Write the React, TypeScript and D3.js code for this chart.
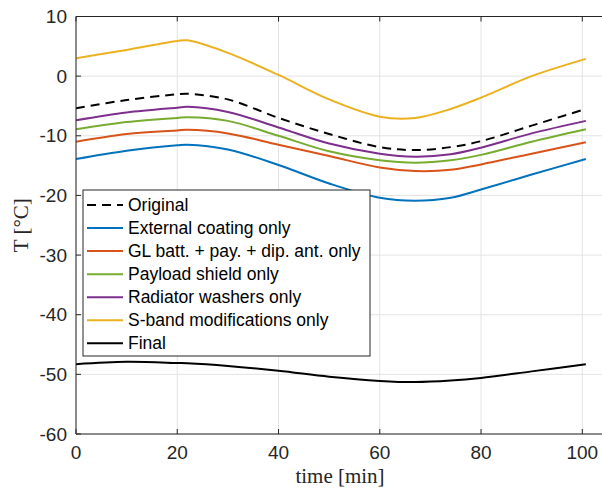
import React from "react";
import * as d3 from "d3";

const times = [0, 10, 20, 22, 30, 40, 50, 60, 67, 74, 80, 90, 100.7];

const seriesNames = [
  "Original",
  "External coating only",
  "GL batt. + pay. + dip. ant. only",
  "Payload shield only",
  "Radiator washers only",
  "S-band modifications only",
  "Final",
];

const original = [-5.4, -4.0, -3.05, -2.95, -3.9, -7.0, -9.7, -11.9, -12.4, -11.9, -10.9, -8.3, -5.5];
const externalCoating = [-13.9, -12.5, -11.6, -11.5, -12.3, -14.9, -18.0, -20.4, -20.9, -20.4, -19.0, -16.5, -13.9];
const glBatt = [-11.0, -9.7, -9.1, -9.0, -9.6, -11.5, -13.4, -15.3, -15.9, -15.7, -14.8, -13.0, -11.1];
const payloadShield = [-8.9, -7.7, -7.0, -6.9, -7.5, -10.0, -12.6, -14.1, -14.5, -14.1, -13.2, -11.0, -8.9];
const radiatorWashers = [-7.4, -6.1, -5.3, -5.15, -6.0, -8.6, -11.3, -13.0, -13.5, -13.1, -12.0, -9.6, -7.5];
const sBand = [3.0, 4.4, 5.9, 6.0, 3.9, 0.2, -3.9, -6.8, -7.0, -5.5, -3.6, 0.0, 2.9];
const finalSeries = [-48.3, -47.9, -48.1, -48.15, -48.6, -49.4, -50.4, -51.1, -51.3, -51.05, -50.6, -49.5, -48.3];

const seriesValues = [original, externalCoating, glBatt, payloadShield, radiatorWashers, sBand, finalSeries];
const seriesColors = ["#000000", "#0072BD", "#D95319", "#77AC30", "#7E2F8E", "#EDB120", "#000000"];
const seriesDashed = [true, false, false, false, false, false, false];

const xTicks = [0, 20, 40, 60, 80, 100];
const yTicks = [10, 0, -10, -20, -30, -40, -50, -60];

export default function App() {
  const W = 602;
  const H = 492;
  const left = 76;
  const top = 16.5;
  const bottom = 434;
  const x = d3.scaleLinear().domain([0, 100]).range([left, 582.3]);
  const y = d3.scaleLinear().domain([-60, 10]).range([bottom, top]);
  const right = W;

  const line = d3
    .line<number>()
    .x((_, i) => x(times[i]))
    .y((d) => y(d))
    .curve(d3.curveCatmullRom.alpha(0.5));

  const axisColor = "#262626";
  const gridColor = "#e3e3e3";
  const tickFont = "Liberation Sans, Arial, sans-serif";
  const serif = "Liberation Serif, Times New Roman, serif";

  const legX = 83;
  const legY = 190;
  const legW = 287;
  const legH = 166;
  const rowY0 = 205;
  const rowStep = 23.05;

  return (
    <svg
      width={W}
      height={H}
      style={{ position: "absolute", left: 0, top: 0, background: "#fff" }}
    >
      <rect x={0} y={0} width={W} height={H} fill="#fff" />
      <defs>
        <clipPath id="plotClip">
          <rect x={left} y={top} width={right - left} height={bottom - top} />
        </clipPath>
      </defs>
      {xTicks.map((t) => (
        <line key={"gx" + t} x1={x(t)} x2={x(t)} y1={top} y2={bottom} stroke={gridColor} strokeWidth={1} />
      ))}
      {yTicks.map((t) => (
        <line key={"gy" + t} x1={left} x2={right} y1={y(t)} y2={y(t)} stroke={gridColor} strokeWidth={1} />
      ))}
      <g clipPath="url(#plotClip)">
        {seriesValues.map((vals, i) => (
          <path
            key={"s" + i}
            d={line(vals) || ""}
            fill="none"
            stroke={seriesColors[i]}
            strokeWidth={2}
            strokeDasharray={seriesDashed[i] ? "9,6" : undefined}
          />
        ))}
      </g>
      <line x1={left} x2={right} y1={bottom} y2={bottom} stroke={axisColor} strokeWidth={1} />
      <line x1={left} x2={right} y1={top} y2={top} stroke={axisColor} strokeWidth={1} />
      <line x1={left} x2={left} y1={top} y2={bottom} stroke={axisColor} strokeWidth={1} />
      {xTicks.map((t) => (
        <g key={"xt" + t}>
          <line x1={x(t)} x2={x(t)} y1={bottom} y2={bottom - 5} stroke={axisColor} />
          <line x1={x(t)} x2={x(t)} y1={top} y2={top + 5} stroke={axisColor} />
          <text
            x={x(t)}
            y={452}
            textAnchor="middle"
            dominantBaseline="central"
            fontFamily={tickFont}
            fontSize={19}
            fill={axisColor}
          >
            {t}
          </text>
        </g>
      ))}
      {yTicks.map((t) => (
        <g key={"yt" + t}>
          <line x1={left} x2={left + 5} y1={y(t)} y2={y(t)} stroke={axisColor} />
          <text
            x={67}
            y={y(t)}
            textAnchor="end"
            dominantBaseline="central"
            fontFamily={tickFont}
            fontSize={19}
            fill={axisColor}
          >
            {t}
          </text>
        </g>
      ))}
      <text
        x={340}
        y={476}
        textAnchor="middle"
        dominantBaseline="central"
        fontFamily={serif}
        fontSize={21}
        fill={axisColor}
      >
        time [min]
      </text>
      <text
        transform={`translate(21, ${(top + bottom) / 2}) rotate(-90)`}
        textAnchor="middle"
        dominantBaseline="central"
        fontFamily={serif}
        fontSize={21}
        fill={axisColor}
      >
        T [°C]
      </text>
      <rect x={legX} y={legY} width={legW} height={legH} fill="#fff" stroke={axisColor} strokeWidth={1} />
      {seriesNames.map((name, i) => {
        const ry = rowY0 + i * rowStep;
        return (
          <g key={"lg" + i}>
            <line
              x1={87}
              x2={123}
              y1={ry}
              y2={ry}
              stroke={seriesColors[i]}
              strokeWidth={2}
              strokeDasharray={seriesDashed[i] ? "9,6" : undefined}
            />
            <text
              x={128}
              y={ry}
              dominantBaseline="central"
              fontFamily={tickFont}
              fontSize={17.5}
              fill="#000"
            >
              {name}
            </text>
          </g>
        );
      })}
    </svg>
  );
}
